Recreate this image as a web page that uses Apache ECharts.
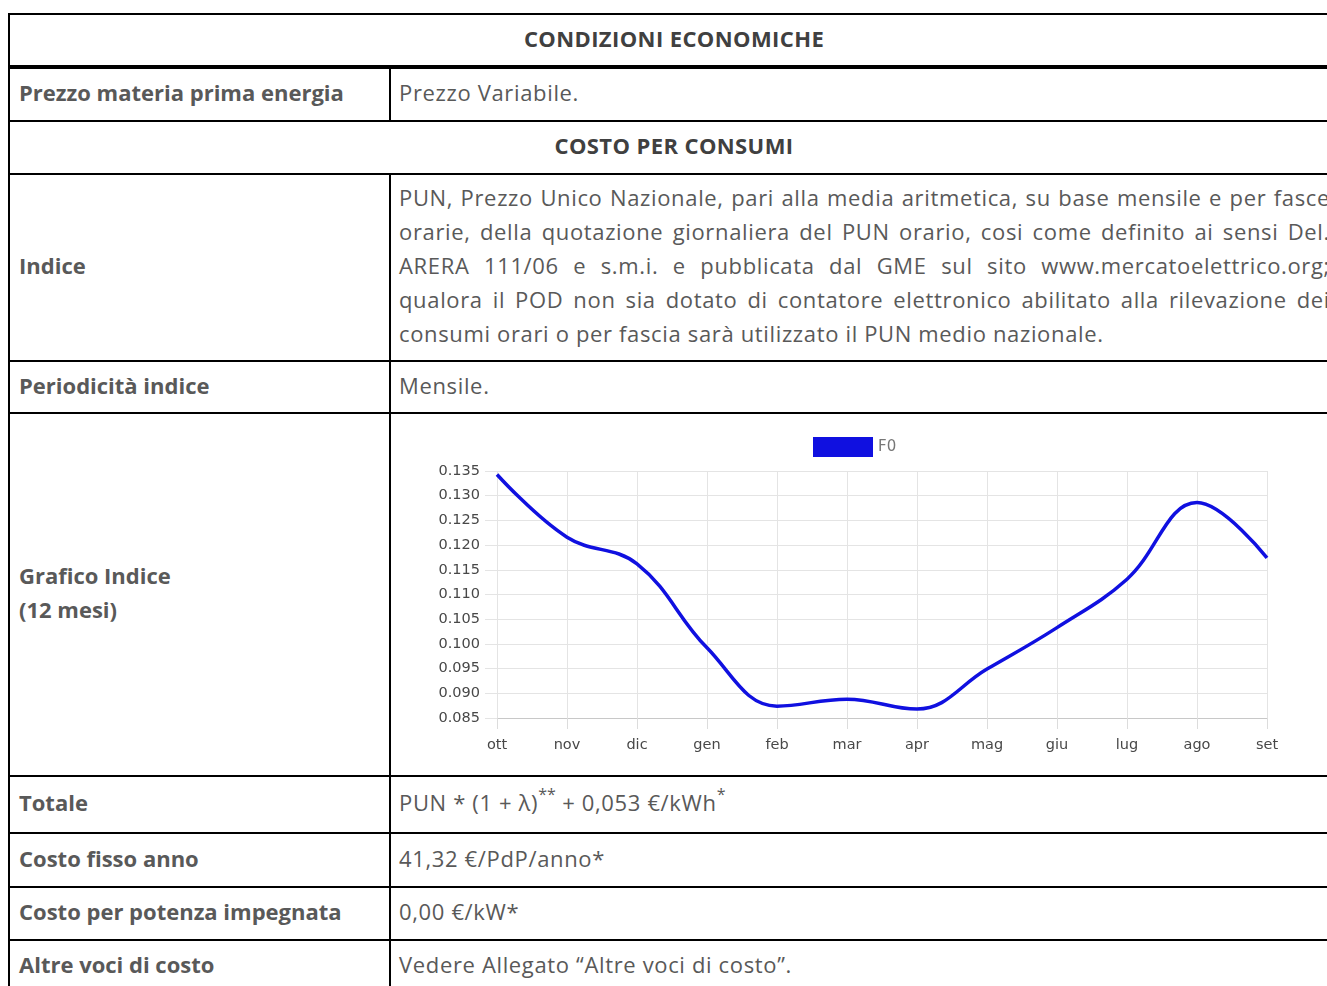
<!DOCTYPE html>
<html><head><meta charset="utf-8">
<script src="https://cdn.jsdelivr.net/npm/echarts@6/dist/echarts.min.js"></script>
<style>
html,body{margin:0;padding:0;overflow:hidden;background:#fff;width:1327px;height:986px;}
table{position:absolute;left:8px;top:13px;border-collapse:collapse;table-layout:fixed;width:1332px;font-family:"Open Sans","Noto Sans",sans-serif;font-size:22px;color:#595959;}
td{border:2px solid #000;padding:0 8px 5px 8px;vertical-align:middle;line-height:34px;overflow:hidden;letter-spacing:0.65px;}
td.lab{font-weight:bold;padding-left:9px;letter-spacing:0;}
td.head{text-align:center;font-weight:bold;color:#404040;letter-spacing:0.4px;}
tr.h1 td{border-bottom:4px solid #000;}
.j{text-align:justify;text-align-last:justify;white-space:nowrap;}
.jl{text-align:left;white-space:nowrap;}
sup{font-size:16px;line-height:0;position:relative;top:-3px;letter-spacing:0;}
td.chartcell{padding:0;letter-spacing:0;}
#chart{width:948px;height:361px;letter-spacing:0;}
</style></head>
<body>
<table>
<colgroup><col style="width:381px"><col></colgroup>
<tr class="h1" style="height:53px"><td class="head" colspan="2">CONDIZIONI ECONOMICHE</td></tr>
<tr style="height:54px"><td class="lab">Prezzo materia prima energia</td><td>Prezzo Variabile.</td></tr>
<tr style="height:53px"><td class="head" colspan="2">COSTO PER CONSUMI</td></tr>
<tr style="height:187px"><td class="lab">Indice</td><td>
<div class="j">PUN, Prezzo Unico Nazionale, pari alla media aritmetica, su base mensile e per fasce</div>
<div class="j">orarie, della quotazione giornaliera del PUN orario, cosi come definito ai sensi Del.</div>
<div class="j">ARERA 111/06 e s.m.i. e pubblicata dal GME sul sito www.mercatoelettrico.org;</div>
<div class="j">qualora il POD non sia dotato di contatore elettronico abilitato alla rilevazione dei</div>
<div class="jl">consumi orari o per fascia sarà utilizzato il PUN medio nazionale.</div>
</td></tr>
<tr style="height:52px"><td class="lab">Periodicità indice</td><td>Mensile.</td></tr>
<tr style="height:363px"><td class="lab">Grafico Indice<br>(12 mesi)</td><td class="chartcell"><div id="chart"></div></td></tr>
<tr style="height:57px"><td class="lab">Totale</td><td>PUN * (1 + λ)<sup>**</sup> + 0,053 €/kWh<sup>*</sup></td></tr>
<tr style="height:54px"><td class="lab">Costo fisso anno</td><td>41,32 €/PdP/anno*</td></tr>
<tr style="height:53px"><td class="lab">Costo per potenza impegnata</td><td>0,00 €/kW*</td></tr>
<tr style="height:53px"><td class="lab">Altre voci di costo</td><td>Vedere Allegato “Altre voci di costo”.</td></tr>
</table>
<script>
const months = ['ott','nov','dic','gen','feb','mar','apr','mag','giu','lug','ago','set'];
const f0Values = [0.1343,0.1216,0.1162,0.0992,0.0874,0.0888,0.0868,0.0949,0.1033,0.1131,0.1286,0.1174];
const seriesName = 'F0';
const yMin = 0.085, yMax = 0.135, yStep = 0.005;

const chart = echarts.init(document.getElementById('chart'), null, {renderer:'canvas'});
chart.setOption({
  animation:false,
  legend:{left:422, top:23, padding:0, itemWidth:60, itemHeight:20, icon:'rect', itemGap:10,
    textStyle:{color:'#777', fontFamily:'DejaVu Sans', fontSize:15}, data:[seriesName]},
  grid:{left:106, top:57, width:770, height:247, containLabel:false},
  xAxis:{type:'category', data:months, boundaryGap:false,
    axisLine:{lineStyle:{color:'#c8c8c8'}},
    axisTick:{show:true, length:11, lineStyle:{color:'#dcdcdc'}},
    splitLine:{show:true, lineStyle:{color:'#e4e4e4'}},
    axisLabel:{margin:20, color:'#484848', fontFamily:'DejaVu Sans', fontSize:14.5}},
  yAxis:{type:'value', min:yMin, max:yMax, interval:yStep,
    axisLine:{show:false},
    axisTick:{show:true, length:12, lineStyle:{color:'#e4e4e4'}},
    splitLine:{show:true, lineStyle:{color:'#e4e4e4'}},
    axisLabel:{margin:17, color:'#484848', fontFamily:'DejaVu Sans', fontSize:14.5, formatter:v=>v.toFixed(3)}},
  series:[{name:seriesName, type:'line', data:f0Values, smooth:0.4, symbol:'none',
    itemStyle:{color:'#1010e0'}, lineStyle:{color:'#1010e0', width:3.5}}]
});
</script>
</body></html>
